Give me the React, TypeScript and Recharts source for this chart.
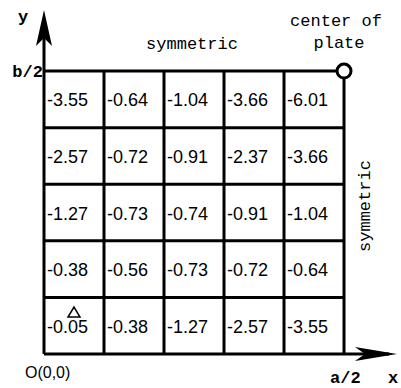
import React from 'react';
import { ScatterChart, Scatter, XAxis, YAxis, ReferenceLine, ReferenceDot } from 'recharts';

// Cell values, bottom row (y index 0) to top row (y index 4), columns left to right
const row1 = [-0.05, -0.38, -1.27, -2.57, -3.55];
const row2 = [-0.38, -0.56, -0.73, -0.72, -0.64];
const row3 = [-1.27, -0.73, -0.74, -0.91, -1.04];
const row4 = [-2.57, -0.72, -0.91, -2.37, -3.66];
const row5 = [-3.55, -0.64, -1.04, -3.66, -6.01];
const rows = [row1, row2, row3, row4, row5];
const gridIdx = [0, 1, 2, 3, 4, 5];

const cellData = rows.flatMap((r, ri) => r.map((v, ci) => ({ x: ci, y: ri + 0.5, v })));

const MONO = '"Liberation Mono", "DejaVu Sans Mono", monospace';
const SANS = '"Liberation Sans", Arial, sans-serif';

const CellLabel = (p: any) => (
  <text x={p.cx + 3} y={p.cy + 7} fontSize={18} fontFamily={SANS} fill="#000">
    {p.payload.v.toFixed(2)}
  </text>
);

const txt = (s: string, anchor: string, font: string, size = 17, weight = 'normal', rotate = false) => (p: any) => (
  <text
    x={p.cx}
    y={p.cy}
    textAnchor={anchor}
    fontSize={size}
    fontFamily={font}
    fontWeight={weight}
    fill="#000"
    dominantBaseline={rotate ? 'central' : undefined}
    transform={rotate ? `rotate(-90, ${p.cx}, ${p.cy})` : undefined}
  >
    {s}
  </text>
);

const YArrow = (p: any) => (
  <path d={`M${p.cx},${p.cy} L${p.cx + 8},${p.cy + 36} L${p.cx},${p.cy + 28} L${p.cx - 8},${p.cy + 36} Z`} fill="#000" />
);
const XArrow = (p: any) => (
  <path d={`M${p.cx},${p.cy} L${p.cx - 42},${p.cy - 7} L${p.cx - 32},${p.cy} L${p.cx - 42},${p.cy + 7} Z`} fill="#000" />
);
const Tri = (p: any) => (
  <path d={`M${p.cx},${p.cy - 5} L${p.cx + 6},${p.cy + 5} L${p.cx - 6},${p.cy + 5} Z`} fill="none" stroke="#000" strokeWidth={1.5} />
);

export default function App() {
  return (
    <div style={{ position: 'absolute', left: 0, top: 0, background: '#fff' }}>
      <ScatterChart width={401} height={388} margin={{ top: 10, right: 4, bottom: 34, left: 44 }}>
        <XAxis type="number" dataKey="x" domain={[0, 5.883]} hide />
        <YAxis type="number" dataKey="y" domain={[0, 6.08]} hide />
        {gridIdx.map((i) => (
          <ReferenceLine
            key={'v' + i}
            ifOverflow="visible"
            segment={[{ x: i, y: 0 }, { x: i, y: i === 0 ? 5.9 : 5 }]}
            stroke="#000"
            strokeWidth={3}
          />
        ))}
        {gridIdx.map((i) => (
          <ReferenceLine
            key={'h' + i}
            ifOverflow="visible"
            segment={[{ x: 0, y: i }, { x: i === 0 ? 5.75 : 5, y: i }]}
            stroke="#000"
            strokeWidth={3}
          />
        ))}
        <Scatter data={cellData} isAnimationActive={false} shape={CellLabel} />
        <ReferenceDot x={5} y={5} r={7} fill="#fff" stroke="#000" strokeWidth={3} ifOverflow="visible" />
        <ReferenceDot x={0} y={6.08} ifOverflow="visible" shape={YArrow} />
        <ReferenceDot x={5.883} y={0} ifOverflow="visible" shape={XArrow} />
        <ReferenceDot x={0.5} y={0.742} ifOverflow="visible" shape={Tri} />
        <ReferenceDot x={-0.35} y={5.866} ifOverflow="visible" shape={txt('y', 'middle', MONO, 17, 'bold')} />
        <ReferenceDot x={-0.017} y={4.894} ifOverflow="visible" shape={txt('b/2', 'end', MONO, 17, 'bold')} />
        <ReferenceDot x={2.467} y={5.389} ifOverflow="visible" shape={txt('symmetric', 'middle', MONO)} />
        <ReferenceDot x={4.867} y={5.795} ifOverflow="visible" shape={txt('center of', 'middle', MONO)} />
        <ReferenceDot x={4.917} y={5.406} ifOverflow="visible" shape={txt('plate', 'middle', MONO)} />
        <ReferenceDot x={-0.317} y={-0.424} ifOverflow="visible" shape={txt('O(0,0)', 'start', SANS, 16)} />
        <ReferenceDot x={4.767} y={-0.51} ifOverflow="visible" shape={txt('a/2', 'start', MONO, 17, 'bold')} />
        <ReferenceDot x={5.733} y={-0.51} ifOverflow="visible" shape={txt('x', 'start', MONO, 17, 'bold')} />
        <ReferenceDot x={5.35} y={2.615} ifOverflow="visible" shape={txt('symmetric', 'middle', MONO, 17, 'normal', true)} />
      </ScatterChart>
    </div>
  );
}
